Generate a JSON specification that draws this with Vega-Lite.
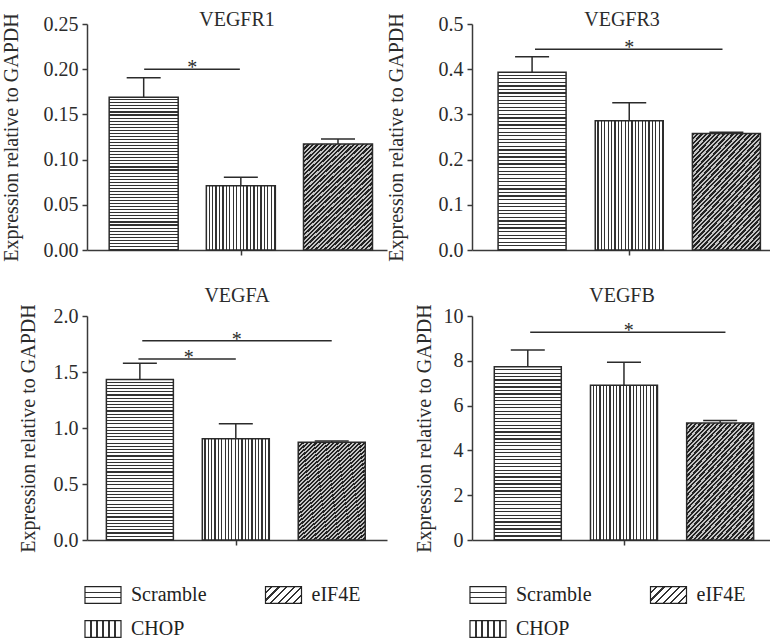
{
"$schema":"https://vega.github.io/schema/vega-lite/v6.json",
"background":"white",
"padding":{"left":0,"top":9,"right":0,"bottom":0},
"columns":2,
"spacing":{"row":66,"column":85},
"bounds":"flush",
"datasets":{
"bars":[
{"panel":"VEGFR1","group":"Scramble","pos":0,"mean":0.169,"upper":0.1906},
{"panel":"VEGFR1","group":"CHOP","pos":1,"mean":0.0711,"upper":0.0804},
{"panel":"VEGFR1","group":"eIF4E","pos":2,"mean":0.1173,"upper":0.1228},
{"panel":"VEGFR3","group":"Scramble","pos":0,"mean":0.393,"upper":0.4277},
{"panel":"VEGFR3","group":"CHOP","pos":1,"mean":0.286,"upper":0.326},
{"panel":"VEGFR3","group":"eIF4E","pos":2,"mean":0.258,"upper":0.2604},
{"panel":"VEGFA","group":"Scramble","pos":0,"mean":1.433,"upper":1.579},
{"panel":"VEGFA","group":"CHOP","pos":1,"mean":0.905,"upper":1.039},
{"panel":"VEGFA","group":"eIF4E","pos":2,"mean":0.872,"upper":0.884},
{"panel":"VEGFB","group":"Scramble","pos":0,"mean":7.73,"upper":8.48},
{"panel":"VEGFB","group":"CHOP","pos":1,"mean":6.91,"upper":7.93},
{"panel":"VEGFB","group":"eIF4E","pos":2,"mean":5.22,"upper":5.33}
],
"sig":[
{"panel":"VEGFR1","x1":0.005,"x2":0.99,"xm":0.5,"y":0.2,"label":"*"},
{"panel":"VEGFR3","x1":0.03,"x2":1.96,"xm":1.0,"y":0.444,"label":"*"},
{"panel":"VEGFA","x1":0.025,"x2":2.0,"xm":1.01,"y":1.78,"label":"*"},
{"panel":"VEGFA","x1":-0.015,"x2":1.0,"xm":0.51,"y":1.616,"label":"*"},
{"panel":"VEGFB","x1":0.025,"x2":2.055,"xm":1.05,"y":9.28,"label":"*"}
],
"legend":[
{"group":"Scramble","col":0,"row":0},
{"group":"eIF4E","col":1,"row":0},
{"group":"CHOP","col":0,"row":1}
]
},
"concat":[
{
"width":300,"height":226,
"title":{"text":"VEGFR1","offset":-17},
"layer":[
{"data":{"name":"bars"},"transform":[{"filter":"datum.panel==='VEGFR1'&&datum.group==='Scramble'"}],
"mark":{"type":"bar","style":"scr","width":69,"stroke":"#2b2b2b","strokeWidth":1.5},
"encoding":{"x":{"field":"pos","type":"quantitative","scale":{"domain":[-0.532,2.453],"nice":false,"zero":false},"axis":{"values":[1],"labels":false,"title":null}},
"y":{"field":"mean","type":"quantitative","scale":{"domain":[0,0.25],"nice":false},"axis":{"title":"Expression relative to GAPDH","titlePadding":22}}}},
{"data":{"name":"bars"},"transform":[{"filter":"datum.panel==='VEGFR1'&&datum.group==='CHOP'"}],
"mark":{"type":"bar","style":"chop","width":69,"stroke":"#2b2b2b","strokeWidth":1.5},
"encoding":{"x":{"field":"pos","type":"quantitative"},"y":{"field":"mean","type":"quantitative"}}},
{"data":{"name":"bars"},"transform":[{"filter":"datum.panel==='VEGFR1'&&datum.group==='eIF4E'"}],
"mark":{"type":"bar","style":"eif","width":69,"stroke":"#2b2b2b","strokeWidth":1.5},
"encoding":{"x":{"field":"pos","type":"quantitative"},"y":{"field":"mean","type":"quantitative"}}},
{"data":{"name":"bars"},"transform":[{"filter":"datum.panel==='VEGFR1'"}],
"mark":{"type":"rule","color":"#2b2b2b","strokeWidth":1.5},
"encoding":{"x":{"field":"pos","type":"quantitative"},"y":{"field":"mean","type":"quantitative"},"y2":{"field":"upper"}}},
{"data":{"name":"bars"},"transform":[{"filter":"datum.panel==='VEGFR1'"}],
"mark":{"type":"tick","orient":"horizontal","size":34,"thickness":1.5,"color":"#2b2b2b","opacity":1},
"encoding":{"x":{"field":"pos","type":"quantitative"},"y":{"field":"upper","type":"quantitative"}}},
{"data":{"name":"sig"},"transform":[{"filter":"datum.panel==='VEGFR1'"}],
"mark":{"type":"rule","color":"#2b2b2b","strokeWidth":1.5},
"encoding":{"x":{"field":"x1","type":"quantitative"},"x2":{"field":"x2"},"y":{"field":"y","type":"quantitative"}}},
{"data":{"name":"sig"},"transform":[{"filter":"datum.panel==='VEGFR1'"}],
"mark":{"type":"text","fontSize":20,"dy":5,"baseline":"alphabetic","color":"#2b2b2b"},
"encoding":{"x":{"field":"xm","type":"quantitative"},"y":{"field":"y","type":"quantitative"},"text":{"field":"label"}}}
]
},
{
"width":300,"height":226,
"title":{"text":"VEGFR3","offset":-17},
"layer":[
{"data":{"name":"bars"},"transform":[{"filter":"datum.panel==='VEGFR3'&&datum.group==='Scramble'"}],
"mark":{"type":"bar","style":"scr","width":68,"stroke":"#2b2b2b","strokeWidth":1.5},
"encoding":{"x":{"field":"pos","type":"quantitative","scale":{"domain":[-0.567,2.418],"nice":false,"zero":false},"axis":{"values":[1],"labels":false,"title":null}},
"y":{"field":"mean","type":"quantitative","scale":{"domain":[0,0.5],"nice":false},"axis":{"title":"Expression relative to GAPDH","titlePadding":32}}}},
{"data":{"name":"bars"},"transform":[{"filter":"datum.panel==='VEGFR3'&&datum.group==='CHOP'"}],
"mark":{"type":"bar","style":"chop","width":68,"stroke":"#2b2b2b","strokeWidth":1.5},
"encoding":{"x":{"field":"pos","type":"quantitative"},"y":{"field":"mean","type":"quantitative"}}},
{"data":{"name":"bars"},"transform":[{"filter":"datum.panel==='VEGFR3'&&datum.group==='eIF4E'"}],
"mark":{"type":"bar","style":"eif","width":68,"stroke":"#2b2b2b","strokeWidth":1.5},
"encoding":{"x":{"field":"pos","type":"quantitative"},"y":{"field":"mean","type":"quantitative"}}},
{"data":{"name":"bars"},"transform":[{"filter":"datum.panel==='VEGFR3'"}],
"mark":{"type":"rule","color":"#2b2b2b","strokeWidth":1.5},
"encoding":{"x":{"field":"pos","type":"quantitative"},"y":{"field":"mean","type":"quantitative"},"y2":{"field":"upper"}}},
{"data":{"name":"bars"},"transform":[{"filter":"datum.panel==='VEGFR3'"}],
"mark":{"type":"tick","orient":"horizontal","size":34,"thickness":1.5,"color":"#2b2b2b","opacity":1},
"encoding":{"x":{"field":"pos","type":"quantitative"},"y":{"field":"upper","type":"quantitative"}}},
{"data":{"name":"sig"},"transform":[{"filter":"datum.panel==='VEGFR3'"}],
"mark":{"type":"rule","color":"#2b2b2b","strokeWidth":1.5},
"encoding":{"x":{"field":"x1","type":"quantitative"},"x2":{"field":"x2"},"y":{"field":"y","type":"quantitative"}}},
{"data":{"name":"sig"},"transform":[{"filter":"datum.panel==='VEGFR3'"}],
"mark":{"type":"text","fontSize":20,"dy":5,"baseline":"alphabetic","color":"#2b2b2b"},
"encoding":{"x":{"field":"xm","type":"quantitative"},"y":{"field":"y","type":"quantitative"},"text":{"field":"label"}}}
]
},
{
"width":300,"height":224,
"title":{"text":"VEGFA","offset":-2},
"layer":[
{"data":{"name":"bars"},"transform":[{"filter":"datum.panel==='VEGFA'&&datum.group==='Scramble'"}],
"mark":{"type":"bar","style":"scr","width":67,"stroke":"#2b2b2b","strokeWidth":1.5},
"encoding":{"x":{"field":"pos","type":"quantitative","scale":{"domain":[-0.499,2.524],"nice":false,"zero":false},"axis":{"values":[1],"labels":false,"title":null}},
"y":{"field":"mean","type":"quantitative","scale":{"domain":[0,2],"nice":false},"axis":{"title":"Expression relative to GAPDH","titlePadding":15}}}},
{"data":{"name":"bars"},"transform":[{"filter":"datum.panel==='VEGFA'&&datum.group==='CHOP'"}],
"mark":{"type":"bar","style":"chop","width":67,"stroke":"#2b2b2b","strokeWidth":1.5},
"encoding":{"x":{"field":"pos","type":"quantitative"},"y":{"field":"mean","type":"quantitative"}}},
{"data":{"name":"bars"},"transform":[{"filter":"datum.panel==='VEGFA'&&datum.group==='eIF4E'"}],
"mark":{"type":"bar","style":"eif","width":67,"stroke":"#2b2b2b","strokeWidth":1.5},
"encoding":{"x":{"field":"pos","type":"quantitative"},"y":{"field":"mean","type":"quantitative"}}},
{"data":{"name":"bars"},"transform":[{"filter":"datum.panel==='VEGFA'"}],
"mark":{"type":"rule","color":"#2b2b2b","strokeWidth":1.5},
"encoding":{"x":{"field":"pos","type":"quantitative"},"y":{"field":"mean","type":"quantitative"},"y2":{"field":"upper"}}},
{"data":{"name":"bars"},"transform":[{"filter":"datum.panel==='VEGFA'"}],
"mark":{"type":"tick","orient":"horizontal","size":34,"thickness":1.5,"color":"#2b2b2b","opacity":1},
"encoding":{"x":{"field":"pos","type":"quantitative"},"y":{"field":"upper","type":"quantitative"}}},
{"data":{"name":"sig"},"transform":[{"filter":"datum.panel==='VEGFA'"}],
"mark":{"type":"rule","color":"#2b2b2b","strokeWidth":1.5},
"encoding":{"x":{"field":"x1","type":"quantitative"},"x2":{"field":"x2"},"y":{"field":"y","type":"quantitative"}}},
{"data":{"name":"sig"},"transform":[{"filter":"datum.panel==='VEGFA'"}],
"mark":{"type":"text","fontSize":20,"dy":5,"baseline":"alphabetic","color":"#2b2b2b"},
"encoding":{"x":{"field":"xm","type":"quantitative"},"y":{"field":"y","type":"quantitative"},"text":{"field":"label"}}}
]
},
{
"width":300,"height":224,
"title":{"text":"VEGFB","offset":-2},
"layer":[
{"data":{"name":"bars"},"transform":[{"filter":"datum.panel==='VEGFB'&&datum.group==='Scramble'"}],
"mark":{"type":"bar","style":"scr","width":67,"stroke":"#2b2b2b","strokeWidth":1.5},
"encoding":{"x":{"field":"pos","type":"quantitative","scale":{"domain":[-0.528,2.487],"nice":false,"zero":false},"axis":{"values":[1],"labels":false,"title":null}},
"y":{"field":"mean","type":"quantitative","scale":{"domain":[0,10],"nice":false},"axis":{"title":"Expression relative to GAPDH","titlePadding":9}}}},
{"data":{"name":"bars"},"transform":[{"filter":"datum.panel==='VEGFB'&&datum.group==='CHOP'"}],
"mark":{"type":"bar","style":"chop","width":67,"stroke":"#2b2b2b","strokeWidth":1.5},
"encoding":{"x":{"field":"pos","type":"quantitative"},"y":{"field":"mean","type":"quantitative"}}},
{"data":{"name":"bars"},"transform":[{"filter":"datum.panel==='VEGFB'&&datum.group==='eIF4E'"}],
"mark":{"type":"bar","style":"eif","width":67,"stroke":"#2b2b2b","strokeWidth":1.5},
"encoding":{"x":{"field":"pos","type":"quantitative"},"y":{"field":"mean","type":"quantitative"}}},
{"data":{"name":"bars"},"transform":[{"filter":"datum.panel==='VEGFB'"}],
"mark":{"type":"rule","color":"#2b2b2b","strokeWidth":1.5},
"encoding":{"x":{"field":"pos","type":"quantitative"},"y":{"field":"mean","type":"quantitative"},"y2":{"field":"upper"}}},
{"data":{"name":"bars"},"transform":[{"filter":"datum.panel==='VEGFB'"}],
"mark":{"type":"tick","orient":"horizontal","size":34,"thickness":1.5,"color":"#2b2b2b","opacity":1},
"encoding":{"x":{"field":"pos","type":"quantitative"},"y":{"field":"upper","type":"quantitative"}}},
{"data":{"name":"sig"},"transform":[{"filter":"datum.panel==='VEGFB'"}],
"mark":{"type":"rule","color":"#2b2b2b","strokeWidth":1.5},
"encoding":{"x":{"field":"x1","type":"quantitative"},"x2":{"field":"x2"},"y":{"field":"y","type":"quantitative"}}},
{"data":{"name":"sig"},"transform":[{"filter":"datum.panel==='VEGFB'"}],
"mark":{"type":"text","fontSize":20,"dy":5,"baseline":"alphabetic","color":"#2b2b2b"},
"encoding":{"x":{"field":"xm","type":"quantitative"},"y":{"field":"y","type":"quantitative"},"text":{"field":"label"}}}
]
},
{
"width":300,"height":60,
"data":{"name":"legend"},
"layer":[
{"transform":[{"filter":"datum.group==='Scramble'"}],
"mark":{"type":"point","shape":"M-1,-0.47H1V0.47H-1Z","size":1296,"filled":true,"opacity":1,"stroke":"#222","strokeWidth":1.2,
"fill":{"gradient":"linear","x1":0,"y1":0,"x2":0,"y2":1,"stops":[{"offset":0,"color":"#fff"},{"offset":0.3,"color":"#fff"},{"offset":0.3,"color":"#333"},{"offset":0.37,"color":"#333"},{"offset":0.37,"color":"#fff"},{"offset":0.63,"color":"#fff"},{"offset":0.63,"color":"#333"},{"offset":0.7,"color":"#333"},{"offset":0.7,"color":"#fff"},{"offset":1,"color":"#fff"}]}},
"encoding":{"x":{"field":"col","type":"quantitative","scale":{"domain":[-0.0886,1.5734],"nice":false,"zero":false},"axis":null},"y":{"field":"row","type":"quantitative","scale":{"domain":[0.3235,2.0882],"nice":false,"zero":false,"reverse":true},"axis":null}}},
{"transform":[{"filter":"datum.group==='CHOP'"}],
"mark":{"type":"point","shape":"M-1,-0.47H1V0.47H-1Z","size":1296,"filled":true,"opacity":1,"stroke":"#222","strokeWidth":1.2,
"fill":{"gradient":"linear","x1":0,"y1":0,"x2":1,"y2":0,"stops":[{"offset":0,"color":"#fff"},{"offset":0.147,"color":"#fff"},{"offset":0.147,"color":"#333"},{"offset":0.187,"color":"#333"},{"offset":0.187,"color":"#fff"},{"offset":0.313,"color":"#fff"},{"offset":0.313,"color":"#333"},{"offset":0.353,"color":"#333"},{"offset":0.353,"color":"#fff"},{"offset":0.48,"color":"#fff"},{"offset":0.48,"color":"#333"},{"offset":0.52,"color":"#333"},{"offset":0.52,"color":"#fff"},{"offset":0.647,"color":"#fff"},{"offset":0.647,"color":"#333"},{"offset":0.687,"color":"#333"},{"offset":0.687,"color":"#fff"},{"offset":0.813,"color":"#fff"},{"offset":0.813,"color":"#333"},{"offset":0.853,"color":"#333"},{"offset":0.853,"color":"#fff"},{"offset":1,"color":"#fff"}]}},
"encoding":{"x":{"field":"col","type":"quantitative"},"y":{"field":"row","type":"quantitative"}}},
{"transform":[{"filter":"datum.group==='eIF4E'"}],
"mark":{"type":"point","shape":"M-1,-0.47H1V0.47H-1Z","size":1296,"filled":true,"opacity":1,"stroke":"#222","strokeWidth":1.2,
"fill":{"gradient":"linear","x1":0,"y1":0,"x2":1.204,"y2":0.568,"stops":[{"offset":0,"color":"#fff"},{"offset":0.1,"color":"#fff"},{"offset":0.1,"color":"#333"},{"offset":0.143,"color":"#333"},{"offset":0.143,"color":"#fff"},{"offset":0.243,"color":"#fff"},{"offset":0.243,"color":"#333"},{"offset":0.286,"color":"#333"},{"offset":0.286,"color":"#fff"},{"offset":0.386,"color":"#fff"},{"offset":0.386,"color":"#333"},{"offset":0.429,"color":"#333"},{"offset":0.429,"color":"#fff"},{"offset":0.529,"color":"#fff"},{"offset":0.529,"color":"#333"},{"offset":0.571,"color":"#333"},{"offset":0.571,"color":"#fff"},{"offset":0.671,"color":"#fff"},{"offset":0.671,"color":"#333"},{"offset":0.714,"color":"#333"},{"offset":0.714,"color":"#fff"},{"offset":0.814,"color":"#fff"},{"offset":0.814,"color":"#333"},{"offset":0.857,"color":"#333"},{"offset":0.857,"color":"#fff"},{"offset":0.957,"color":"#fff"},{"offset":0.957,"color":"#333"},{"offset":1,"color":"#333"}]}},
"encoding":{"x":{"field":"col","type":"quantitative"},"y":{"field":"row","type":"quantitative"}}},
{"mark":{"type":"text","align":"left","baseline":"middle","dx":28,"fontSize":20,"color":"#222"},
"encoding":{"x":{"field":"col","type":"quantitative"},"y":{"field":"row","type":"quantitative"},"text":{"field":"group"}}}
]
},
{
"width":300,"height":60,
"data":{"name":"legend"},
"layer":[
{"transform":[{"filter":"datum.group==='Scramble'"}],
"mark":{"type":"point","shape":"M-1,-0.47H1V0.47H-1Z","size":1296,"filled":true,"opacity":1,"stroke":"#222","strokeWidth":1.2,
"fill":{"gradient":"linear","x1":0,"y1":0,"x2":0,"y2":1,"stops":[{"offset":0,"color":"#fff"},{"offset":0.3,"color":"#fff"},{"offset":0.3,"color":"#333"},{"offset":0.37,"color":"#333"},{"offset":0.37,"color":"#fff"},{"offset":0.63,"color":"#fff"},{"offset":0.63,"color":"#333"},{"offset":0.7,"color":"#333"},{"offset":0.7,"color":"#fff"},{"offset":1,"color":"#fff"}]}},
"encoding":{"x":{"field":"col","type":"quantitative","scale":{"domain":[-0.0886,1.5734],"nice":false,"zero":false},"axis":null},"y":{"field":"row","type":"quantitative","scale":{"domain":[0.3235,2.0882],"nice":false,"zero":false,"reverse":true},"axis":null}}},
{"transform":[{"filter":"datum.group==='CHOP'"}],
"mark":{"type":"point","shape":"M-1,-0.47H1V0.47H-1Z","size":1296,"filled":true,"opacity":1,"stroke":"#222","strokeWidth":1.2,
"fill":{"gradient":"linear","x1":0,"y1":0,"x2":1,"y2":0,"stops":[{"offset":0,"color":"#fff"},{"offset":0.147,"color":"#fff"},{"offset":0.147,"color":"#333"},{"offset":0.187,"color":"#333"},{"offset":0.187,"color":"#fff"},{"offset":0.313,"color":"#fff"},{"offset":0.313,"color":"#333"},{"offset":0.353,"color":"#333"},{"offset":0.353,"color":"#fff"},{"offset":0.48,"color":"#fff"},{"offset":0.48,"color":"#333"},{"offset":0.52,"color":"#333"},{"offset":0.52,"color":"#fff"},{"offset":0.647,"color":"#fff"},{"offset":0.647,"color":"#333"},{"offset":0.687,"color":"#333"},{"offset":0.687,"color":"#fff"},{"offset":0.813,"color":"#fff"},{"offset":0.813,"color":"#333"},{"offset":0.853,"color":"#333"},{"offset":0.853,"color":"#fff"},{"offset":1,"color":"#fff"}]}},
"encoding":{"x":{"field":"col","type":"quantitative"},"y":{"field":"row","type":"quantitative"}}},
{"transform":[{"filter":"datum.group==='eIF4E'"}],
"mark":{"type":"point","shape":"M-1,-0.47H1V0.47H-1Z","size":1296,"filled":true,"opacity":1,"stroke":"#222","strokeWidth":1.2,
"fill":{"gradient":"linear","x1":0,"y1":0,"x2":1.204,"y2":0.568,"stops":[{"offset":0,"color":"#fff"},{"offset":0.1,"color":"#fff"},{"offset":0.1,"color":"#333"},{"offset":0.143,"color":"#333"},{"offset":0.143,"color":"#fff"},{"offset":0.243,"color":"#fff"},{"offset":0.243,"color":"#333"},{"offset":0.286,"color":"#333"},{"offset":0.286,"color":"#fff"},{"offset":0.386,"color":"#fff"},{"offset":0.386,"color":"#333"},{"offset":0.429,"color":"#333"},{"offset":0.429,"color":"#fff"},{"offset":0.529,"color":"#fff"},{"offset":0.529,"color":"#333"},{"offset":0.571,"color":"#333"},{"offset":0.571,"color":"#fff"},{"offset":0.671,"color":"#fff"},{"offset":0.671,"color":"#333"},{"offset":0.714,"color":"#333"},{"offset":0.714,"color":"#fff"},{"offset":0.814,"color":"#fff"},{"offset":0.814,"color":"#333"},{"offset":0.857,"color":"#333"},{"offset":0.857,"color":"#fff"},{"offset":0.957,"color":"#fff"},{"offset":0.957,"color":"#333"},{"offset":1,"color":"#333"}]}},
"encoding":{"x":{"field":"col","type":"quantitative"},"y":{"field":"row","type":"quantitative"}}},
{"mark":{"type":"text","align":"left","baseline":"middle","dx":28,"fontSize":20,"color":"#222"},
"encoding":{"x":{"field":"col","type":"quantitative"},"y":{"field":"row","type":"quantitative"},"text":{"field":"group"}}}
]
}
],
"config":{
"view":{"stroke":null},
"font":"Liberation Serif",
"axis":{"labelFont":"Liberation Serif","titleFont":"Liberation Serif","labelFontSize":20,"titleFontSize":20,"titleFontWeight":"normal","labelColor":"#2b2b2b","titleColor":"#2b2b2b","domainColor":"#3a3a3a","tickColor":"#3a3a3a","domainWidth":1.5,"tickWidth":1.5,"tickSize":5,"labelPadding":4,"grid":false},
"title":{"font":"Liberation Serif","fontSize":20,"fontWeight":"normal","color":"#2b2b2b","anchor":"middle","frame":"group"},
"style":{
"scr":{"color":{"gradient":"linear","x1":0,"y1":0,"x2":0,"y2":1,"stops":[
{"offset":0,"color":"#fff"},{"offset":0.013,"color":"#fff"},{"offset":0.013,"color":"#333"},{"offset":0.02,"color":"#333"},
{"offset":0.02,"color":"#fff"},{"offset":0.033,"color":"#fff"},{"offset":0.033,"color":"#333"},{"offset":0.04,"color":"#333"},
{"offset":0.04,"color":"#fff"},{"offset":0.053,"color":"#fff"},{"offset":0.053,"color":"#333"},{"offset":0.06,"color":"#333"},
{"offset":0.06,"color":"#fff"},{"offset":0.073,"color":"#fff"},{"offset":0.073,"color":"#333"},{"offset":0.08,"color":"#333"},
{"offset":0.08,"color":"#fff"},{"offset":0.093,"color":"#fff"},{"offset":0.093,"color":"#333"},{"offset":0.1,"color":"#333"},
{"offset":0.1,"color":"#fff"},{"offset":0.113,"color":"#fff"},{"offset":0.113,"color":"#333"},{"offset":0.12,"color":"#333"},
{"offset":0.12,"color":"#fff"},{"offset":0.133,"color":"#fff"},{"offset":0.133,"color":"#333"},{"offset":0.14,"color":"#333"},
{"offset":0.14,"color":"#fff"},{"offset":0.153,"color":"#fff"},{"offset":0.153,"color":"#333"},{"offset":0.16,"color":"#333"},
{"offset":0.16,"color":"#fff"},{"offset":0.173,"color":"#fff"},{"offset":0.173,"color":"#333"},{"offset":0.18,"color":"#333"},
{"offset":0.18,"color":"#fff"},{"offset":0.193,"color":"#fff"},{"offset":0.193,"color":"#333"},{"offset":0.2,"color":"#333"},
{"offset":0.2,"color":"#fff"},{"offset":0.213,"color":"#fff"},{"offset":0.213,"color":"#333"},{"offset":0.22,"color":"#333"},
{"offset":0.22,"color":"#fff"},{"offset":0.233,"color":"#fff"},{"offset":0.233,"color":"#333"},{"offset":0.24,"color":"#333"},
{"offset":0.24,"color":"#fff"},{"offset":0.253,"color":"#fff"},{"offset":0.253,"color":"#333"},{"offset":0.26,"color":"#333"},
{"offset":0.26,"color":"#fff"},{"offset":0.273,"color":"#fff"},{"offset":0.273,"color":"#333"},{"offset":0.28,"color":"#333"},
{"offset":0.28,"color":"#fff"},{"offset":0.293,"color":"#fff"},{"offset":0.293,"color":"#333"},{"offset":0.3,"color":"#333"},
{"offset":0.3,"color":"#fff"},{"offset":0.313,"color":"#fff"},{"offset":0.313,"color":"#333"},{"offset":0.32,"color":"#333"},
{"offset":0.32,"color":"#fff"},{"offset":0.333,"color":"#fff"},{"offset":0.333,"color":"#333"},{"offset":0.34,"color":"#333"},
{"offset":0.34,"color":"#fff"},{"offset":0.353,"color":"#fff"},{"offset":0.353,"color":"#333"},{"offset":0.36,"color":"#333"},
{"offset":0.36,"color":"#fff"},{"offset":0.373,"color":"#fff"},{"offset":0.373,"color":"#333"},{"offset":0.38,"color":"#333"},
{"offset":0.38,"color":"#fff"},{"offset":0.393,"color":"#fff"},{"offset":0.393,"color":"#333"},{"offset":0.4,"color":"#333"},
{"offset":0.4,"color":"#fff"},{"offset":0.413,"color":"#fff"},{"offset":0.413,"color":"#333"},{"offset":0.42,"color":"#333"},
{"offset":0.42,"color":"#fff"},{"offset":0.433,"color":"#fff"},{"offset":0.433,"color":"#333"},{"offset":0.44,"color":"#333"},
{"offset":0.44,"color":"#fff"},{"offset":0.453,"color":"#fff"},{"offset":0.453,"color":"#333"},{"offset":0.46,"color":"#333"},
{"offset":0.46,"color":"#fff"},{"offset":0.473,"color":"#fff"},{"offset":0.473,"color":"#333"},{"offset":0.48,"color":"#333"},
{"offset":0.48,"color":"#fff"},{"offset":0.493,"color":"#fff"},{"offset":0.493,"color":"#333"},{"offset":0.5,"color":"#333"},
{"offset":0.5,"color":"#fff"},{"offset":0.513,"color":"#fff"},{"offset":0.513,"color":"#333"},{"offset":0.52,"color":"#333"},
{"offset":0.52,"color":"#fff"},{"offset":0.533,"color":"#fff"},{"offset":0.533,"color":"#333"},{"offset":0.54,"color":"#333"},
{"offset":0.54,"color":"#fff"},{"offset":0.553,"color":"#fff"},{"offset":0.553,"color":"#333"},{"offset":0.56,"color":"#333"},
{"offset":0.56,"color":"#fff"},{"offset":0.573,"color":"#fff"},{"offset":0.573,"color":"#333"},{"offset":0.58,"color":"#333"},
{"offset":0.58,"color":"#fff"},{"offset":0.593,"color":"#fff"},{"offset":0.593,"color":"#333"},{"offset":0.6,"color":"#333"},
{"offset":0.6,"color":"#fff"},{"offset":0.613,"color":"#fff"},{"offset":0.613,"color":"#333"},{"offset":0.62,"color":"#333"},
{"offset":0.62,"color":"#fff"},{"offset":0.633,"color":"#fff"},{"offset":0.633,"color":"#333"},{"offset":0.64,"color":"#333"},
{"offset":0.64,"color":"#fff"},{"offset":0.653,"color":"#fff"},{"offset":0.653,"color":"#333"},{"offset":0.66,"color":"#333"},
{"offset":0.66,"color":"#fff"},{"offset":0.673,"color":"#fff"},{"offset":0.673,"color":"#333"},{"offset":0.68,"color":"#333"},
{"offset":0.68,"color":"#fff"},{"offset":0.693,"color":"#fff"},{"offset":0.693,"color":"#333"},{"offset":0.7,"color":"#333"},
{"offset":0.7,"color":"#fff"},{"offset":0.713,"color":"#fff"},{"offset":0.713,"color":"#333"},{"offset":0.72,"color":"#333"},
{"offset":0.72,"color":"#fff"},{"offset":0.733,"color":"#fff"},{"offset":0.733,"color":"#333"},{"offset":0.74,"color":"#333"},
{"offset":0.74,"color":"#fff"},{"offset":0.753,"color":"#fff"},{"offset":0.753,"color":"#333"},{"offset":0.76,"color":"#333"},
{"offset":0.76,"color":"#fff"},{"offset":0.773,"color":"#fff"},{"offset":0.773,"color":"#333"},{"offset":0.78,"color":"#333"},
{"offset":0.78,"color":"#fff"},{"offset":0.793,"color":"#fff"},{"offset":0.793,"color":"#333"},{"offset":0.8,"color":"#333"},
{"offset":0.8,"color":"#fff"},{"offset":0.813,"color":"#fff"},{"offset":0.813,"color":"#333"},{"offset":0.82,"color":"#333"},
{"offset":0.82,"color":"#fff"},{"offset":0.833,"color":"#fff"},{"offset":0.833,"color":"#333"},{"offset":0.84,"color":"#333"},
{"offset":0.84,"color":"#fff"},{"offset":0.853,"color":"#fff"},{"offset":0.853,"color":"#333"},{"offset":0.86,"color":"#333"},
{"offset":0.86,"color":"#fff"},{"offset":0.873,"color":"#fff"},{"offset":0.873,"color":"#333"},{"offset":0.88,"color":"#333"},
{"offset":0.88,"color":"#fff"},{"offset":0.893,"color":"#fff"},{"offset":0.893,"color":"#333"},{"offset":0.9,"color":"#333"},
{"offset":0.9,"color":"#fff"},{"offset":0.913,"color":"#fff"},{"offset":0.913,"color":"#333"},{"offset":0.92,"color":"#333"},
{"offset":0.92,"color":"#fff"},{"offset":0.933,"color":"#fff"},{"offset":0.933,"color":"#333"},{"offset":0.94,"color":"#333"},
{"offset":0.94,"color":"#fff"},{"offset":0.953,"color":"#fff"},{"offset":0.953,"color":"#333"},{"offset":0.96,"color":"#333"},
{"offset":0.96,"color":"#fff"},{"offset":0.973,"color":"#fff"},{"offset":0.973,"color":"#333"},{"offset":0.98,"color":"#333"},
{"offset":0.98,"color":"#fff"},{"offset":0.993,"color":"#fff"},{"offset":0.993,"color":"#333"},{"offset":1,"color":"#333"}
]}},
"chop":{"color":{"gradient":"linear","x1":0,"y1":0,"x2":1,"y2":0,"stops":[
{"offset":0,"color":"#fff"},{"offset":0.032,"color":"#fff"},{"offset":0.032,"color":"#333"},{"offset":0.05,"color":"#333"},
{"offset":0.05,"color":"#fff"},{"offset":0.082,"color":"#fff"},{"offset":0.082,"color":"#333"},{"offset":0.1,"color":"#333"},
{"offset":0.1,"color":"#fff"},{"offset":0.132,"color":"#fff"},{"offset":0.132,"color":"#333"},{"offset":0.15,"color":"#333"},
{"offset":0.15,"color":"#fff"},{"offset":0.182,"color":"#fff"},{"offset":0.182,"color":"#333"},{"offset":0.2,"color":"#333"},
{"offset":0.2,"color":"#fff"},{"offset":0.232,"color":"#fff"},{"offset":0.232,"color":"#333"},{"offset":0.25,"color":"#333"},
{"offset":0.25,"color":"#fff"},{"offset":0.282,"color":"#fff"},{"offset":0.282,"color":"#333"},{"offset":0.3,"color":"#333"},
{"offset":0.3,"color":"#fff"},{"offset":0.332,"color":"#fff"},{"offset":0.332,"color":"#333"},{"offset":0.35,"color":"#333"},
{"offset":0.35,"color":"#fff"},{"offset":0.382,"color":"#fff"},{"offset":0.382,"color":"#333"},{"offset":0.4,"color":"#333"},
{"offset":0.4,"color":"#fff"},{"offset":0.432,"color":"#fff"},{"offset":0.432,"color":"#333"},{"offset":0.45,"color":"#333"},
{"offset":0.45,"color":"#fff"},{"offset":0.482,"color":"#fff"},{"offset":0.482,"color":"#333"},{"offset":0.5,"color":"#333"},
{"offset":0.5,"color":"#fff"},{"offset":0.532,"color":"#fff"},{"offset":0.532,"color":"#333"},{"offset":0.55,"color":"#333"},
{"offset":0.55,"color":"#fff"},{"offset":0.582,"color":"#fff"},{"offset":0.582,"color":"#333"},{"offset":0.6,"color":"#333"},
{"offset":0.6,"color":"#fff"},{"offset":0.632,"color":"#fff"},{"offset":0.632,"color":"#333"},{"offset":0.65,"color":"#333"},
{"offset":0.65,"color":"#fff"},{"offset":0.682,"color":"#fff"},{"offset":0.682,"color":"#333"},{"offset":0.7,"color":"#333"},
{"offset":0.7,"color":"#fff"},{"offset":0.732,"color":"#fff"},{"offset":0.732,"color":"#333"},{"offset":0.75,"color":"#333"},
{"offset":0.75,"color":"#fff"},{"offset":0.782,"color":"#fff"},{"offset":0.782,"color":"#333"},{"offset":0.8,"color":"#333"},
{"offset":0.8,"color":"#fff"},{"offset":0.832,"color":"#fff"},{"offset":0.832,"color":"#333"},{"offset":0.85,"color":"#333"},
{"offset":0.85,"color":"#fff"},{"offset":0.882,"color":"#fff"},{"offset":0.882,"color":"#333"},{"offset":0.9,"color":"#333"},
{"offset":0.9,"color":"#fff"},{"offset":0.932,"color":"#fff"},{"offset":0.932,"color":"#333"},{"offset":0.95,"color":"#333"},
{"offset":0.95,"color":"#fff"},{"offset":0.982,"color":"#fff"},{"offset":0.982,"color":"#333"},{"offset":1,"color":"#333"}
]}},
"eif":{"color":{"gradient":"linear","x1":0,"y1":0,"x2":0.724,"y2":1.171,"stops":[
{"offset":0,"color":"#222"},{"offset":0.013,"color":"#222"},{"offset":0.013,"color":"#c4c4c4"},{"offset":0.025,"color":"#c4c4c4"},
{"offset":0.025,"color":"#222"},{"offset":0.038,"color":"#222"},{"offset":0.038,"color":"#c4c4c4"},{"offset":0.05,"color":"#c4c4c4"},
{"offset":0.05,"color":"#222"},{"offset":0.063,"color":"#222"},{"offset":0.063,"color":"#c4c4c4"},{"offset":0.075,"color":"#c4c4c4"},
{"offset":0.075,"color":"#222"},{"offset":0.088,"color":"#222"},{"offset":0.088,"color":"#c4c4c4"},{"offset":0.1,"color":"#c4c4c4"},
{"offset":0.1,"color":"#222"},{"offset":0.113,"color":"#222"},{"offset":0.113,"color":"#c4c4c4"},{"offset":0.125,"color":"#c4c4c4"},
{"offset":0.125,"color":"#222"},{"offset":0.138,"color":"#222"},{"offset":0.138,"color":"#c4c4c4"},{"offset":0.15,"color":"#c4c4c4"},
{"offset":0.15,"color":"#222"},{"offset":0.163,"color":"#222"},{"offset":0.163,"color":"#c4c4c4"},{"offset":0.175,"color":"#c4c4c4"},
{"offset":0.175,"color":"#222"},{"offset":0.188,"color":"#222"},{"offset":0.188,"color":"#c4c4c4"},{"offset":0.2,"color":"#c4c4c4"},
{"offset":0.2,"color":"#222"},{"offset":0.213,"color":"#222"},{"offset":0.213,"color":"#c4c4c4"},{"offset":0.225,"color":"#c4c4c4"},
{"offset":0.225,"color":"#222"},{"offset":0.238,"color":"#222"},{"offset":0.238,"color":"#c4c4c4"},{"offset":0.25,"color":"#c4c4c4"},
{"offset":0.25,"color":"#222"},{"offset":0.263,"color":"#222"},{"offset":0.263,"color":"#c4c4c4"},{"offset":0.275,"color":"#c4c4c4"},
{"offset":0.275,"color":"#222"},{"offset":0.288,"color":"#222"},{"offset":0.288,"color":"#c4c4c4"},{"offset":0.3,"color":"#c4c4c4"},
{"offset":0.3,"color":"#222"},{"offset":0.313,"color":"#222"},{"offset":0.313,"color":"#c4c4c4"},{"offset":0.325,"color":"#c4c4c4"},
{"offset":0.325,"color":"#222"},{"offset":0.338,"color":"#222"},{"offset":0.338,"color":"#c4c4c4"},{"offset":0.35,"color":"#c4c4c4"},
{"offset":0.35,"color":"#222"},{"offset":0.363,"color":"#222"},{"offset":0.363,"color":"#c4c4c4"},{"offset":0.375,"color":"#c4c4c4"},
{"offset":0.375,"color":"#222"},{"offset":0.388,"color":"#222"},{"offset":0.388,"color":"#c4c4c4"},{"offset":0.4,"color":"#c4c4c4"},
{"offset":0.4,"color":"#222"},{"offset":0.413,"color":"#222"},{"offset":0.413,"color":"#c4c4c4"},{"offset":0.425,"color":"#c4c4c4"},
{"offset":0.425,"color":"#222"},{"offset":0.438,"color":"#222"},{"offset":0.438,"color":"#c4c4c4"},{"offset":0.45,"color":"#c4c4c4"},
{"offset":0.45,"color":"#222"},{"offset":0.463,"color":"#222"},{"offset":0.463,"color":"#c4c4c4"},{"offset":0.475,"color":"#c4c4c4"},
{"offset":0.475,"color":"#222"},{"offset":0.488,"color":"#222"},{"offset":0.488,"color":"#c4c4c4"},{"offset":0.5,"color":"#c4c4c4"},
{"offset":0.5,"color":"#222"},{"offset":0.513,"color":"#222"},{"offset":0.513,"color":"#c4c4c4"},{"offset":0.525,"color":"#c4c4c4"},
{"offset":0.525,"color":"#222"},{"offset":0.538,"color":"#222"},{"offset":0.538,"color":"#c4c4c4"},{"offset":0.55,"color":"#c4c4c4"},
{"offset":0.55,"color":"#222"},{"offset":0.563,"color":"#222"},{"offset":0.563,"color":"#c4c4c4"},{"offset":0.575,"color":"#c4c4c4"},
{"offset":0.575,"color":"#222"},{"offset":0.588,"color":"#222"},{"offset":0.588,"color":"#c4c4c4"},{"offset":0.6,"color":"#c4c4c4"},
{"offset":0.6,"color":"#222"},{"offset":0.613,"color":"#222"},{"offset":0.613,"color":"#c4c4c4"},{"offset":0.625,"color":"#c4c4c4"},
{"offset":0.625,"color":"#222"},{"offset":0.638,"color":"#222"},{"offset":0.638,"color":"#c4c4c4"},{"offset":0.65,"color":"#c4c4c4"},
{"offset":0.65,"color":"#222"},{"offset":0.663,"color":"#222"},{"offset":0.663,"color":"#c4c4c4"},{"offset":0.675,"color":"#c4c4c4"},
{"offset":0.675,"color":"#222"},{"offset":0.688,"color":"#222"},{"offset":0.688,"color":"#c4c4c4"},{"offset":0.7,"color":"#c4c4c4"},
{"offset":0.7,"color":"#222"},{"offset":0.713,"color":"#222"},{"offset":0.713,"color":"#c4c4c4"},{"offset":0.725,"color":"#c4c4c4"},
{"offset":0.725,"color":"#222"},{"offset":0.738,"color":"#222"},{"offset":0.738,"color":"#c4c4c4"},{"offset":0.75,"color":"#c4c4c4"},
{"offset":0.75,"color":"#222"},{"offset":0.763,"color":"#222"},{"offset":0.763,"color":"#c4c4c4"},{"offset":0.775,"color":"#c4c4c4"},
{"offset":0.775,"color":"#222"},{"offset":0.788,"color":"#222"},{"offset":0.788,"color":"#c4c4c4"},{"offset":0.8,"color":"#c4c4c4"},
{"offset":0.8,"color":"#222"},{"offset":0.813,"color":"#222"},{"offset":0.813,"color":"#c4c4c4"},{"offset":0.825,"color":"#c4c4c4"},
{"offset":0.825,"color":"#222"},{"offset":0.838,"color":"#222"},{"offset":0.838,"color":"#c4c4c4"},{"offset":0.85,"color":"#c4c4c4"},
{"offset":0.85,"color":"#222"},{"offset":0.863,"color":"#222"},{"offset":0.863,"color":"#c4c4c4"},{"offset":0.875,"color":"#c4c4c4"},
{"offset":0.875,"color":"#222"},{"offset":0.888,"color":"#222"},{"offset":0.888,"color":"#c4c4c4"},{"offset":0.9,"color":"#c4c4c4"},
{"offset":0.9,"color":"#222"},{"offset":0.913,"color":"#222"},{"offset":0.913,"color":"#c4c4c4"},{"offset":0.925,"color":"#c4c4c4"},
{"offset":0.925,"color":"#222"},{"offset":0.938,"color":"#222"},{"offset":0.938,"color":"#c4c4c4"},{"offset":0.95,"color":"#c4c4c4"},
{"offset":0.95,"color":"#222"},{"offset":0.963,"color":"#222"},{"offset":0.963,"color":"#c4c4c4"},{"offset":0.975,"color":"#c4c4c4"},
{"offset":0.975,"color":"#222"},{"offset":0.988,"color":"#222"},{"offset":0.988,"color":"#c4c4c4"},{"offset":1,"color":"#c4c4c4"}
]}}
}
}
}
